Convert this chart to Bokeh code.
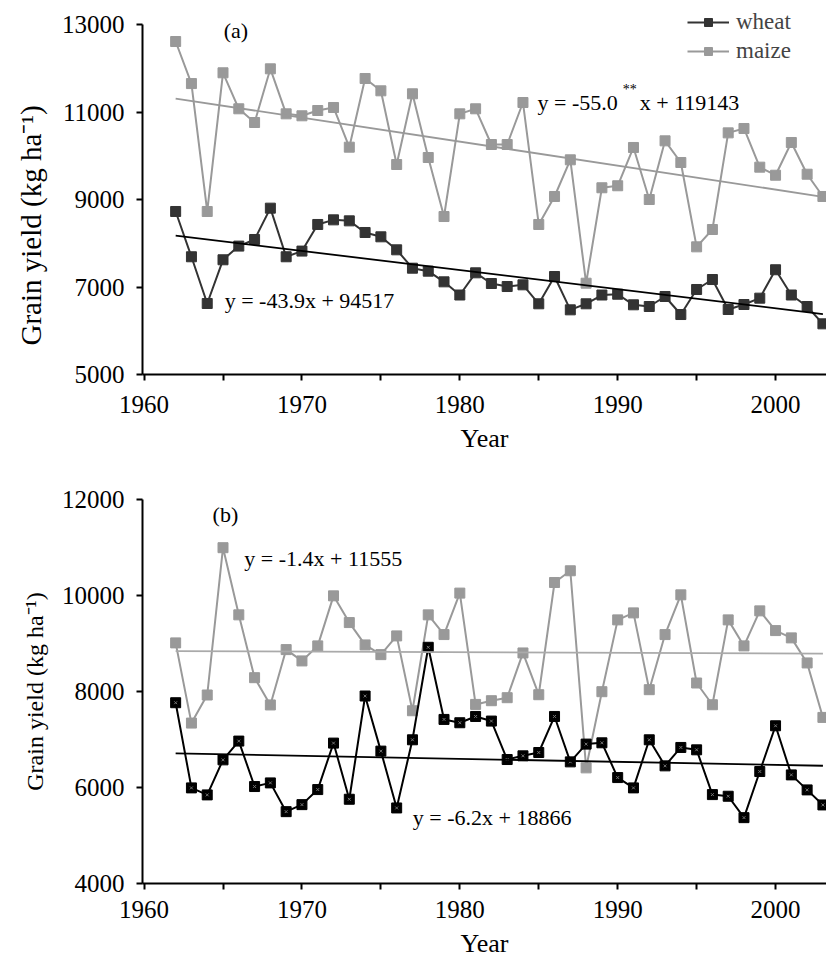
import numpy as np
from bokeh.plotting import figure
from bokeh.layouts import column
from bokeh.models import FixedTicker, Label, Legend, LegendItem, Range1d, Title
from bokeh.embed import file_html
from bokeh.resources import INLINE

# ---------------- data ----------------
years = list(range(1962, 2004))

wheat_a = [8726, 7691, 6623, 7622, 7935, 8086, 8802, 7691, 7821, 8429,
           8535, 8512, 8246, 8147, 7850, 7430, 7362, 7118, 6817, 7324,
           7080, 7011, 7050, 6616, 7240, 6478, 6616, 6817, 6835, 6593,
           6554, 6783, 6371, 6943, 7171, 6486, 6600, 6745, 7394, 6817,
           6554, 6158]
maize_a = [12611, 11650, 8726, 11896, 11073, 10760, 11987, 10958, 10913, 11034,
           11103, 10196, 11766, 11484, 9800, 11416, 9960, 8611, 10958, 11073,
           10257, 10257, 11217, 8429, 9069, 9907, 7087, 9268, 9314, 10189,
           9000, 10341, 9846, 7918, 8314, 10523, 10623, 9739, 9555, 10303,
           9578, 9069]
wheat_b = [7766, 5992, 5846, 6576, 6967, 6020, 6096, 5497, 5643, 5957,
           6925, 5755, 7906, 6758, 5574, 6994, 8921, 7418, 7349, 7480,
           7384, 6583, 6660, 6729, 7480, 6534, 6904, 6931, 6207, 5992,
           6994, 6451, 6834, 6785, 5852, 5818, 5372, 6333, 7286, 6263,
           5950, 5637]
maize_b = [9013, 7342, 7927, 10996, 9597, 8288, 7720, 8873, 8637, 8950,
           9993, 9436, 8970, 8768, 9158, 7599, 9597, 9186, 10050, 7731,
           7808, 7871, 8803, 7933, 10271, 10515, 6409, 7996, 9492, 9638,
           8038, 9186, 10014, 8177, 7724, 9492, 8950, 9680, 9269, 9117,
           8595, 7460]

series_names = ["wheat", "maize"]
eq_a_maize = ["y = -55.0", "**", "x + 119143"]
eq_a_wheat = "y = -43.9x + 94517"
eq_b_maize = "y = -1.4x + 11555"
eq_b_wheat = "y = -6.2x + 18866"
panel_tags = ["(a)", "(b)"]
y_title = "Grain yield (kg ha\u207b\u00b9)"
x_title = "Year"
x_major = [1960, 1970, 1980, 1990, 2000]
x_minor = [1965, 1975, 1985, 1995]
y_ticks_a = [5000, 7000, 9000, 11000, 13000]
y_ticks_b = [4000, 6000, 8000, 10000, 12000]

# ---------------- layout ----------------
FONT = "Liberation Serif"
W = 826
FL = 141
X0 = 1959.9
X1 = X0 + (W - FL) / 15.81

# panel (a): frame spans page y 0..374, 13000 at y=24, 5000 at y=374
H1, BB1 = 460, 86
YA0, YA1 = 5000, 13000
YA_TOP = YA1 + 24 * (YA1 - YA0) / 350.0
# panel (b): frame page y 499..883
H2, BT2, BB2 = 503, 39, 80
YB0, YB1 = 4000, 12000

def px2x(px):
    return X0 + (px - FL) * (X1 - X0) / (W - FL)

def make_fig(height, btop, bbot, ymin, ymax, ybounds, yticks, lab_standoff, ax_standoff,
             ytitle_size, ytitle_align, ytitle_offset, ytitle_standoff):
    p = figure(width=W, height=height, output_backend="svg", toolbar_location=None,
               x_range=Range1d(X0, X1), y_range=Range1d(ymin, ymax),
               min_border_left=FL, min_border_right=0,
               min_border_top=btop, min_border_bottom=bbot)
    p.outline_line_color = None
    p.xgrid.visible = False
    p.ygrid.visible = False
    p.background_fill_color = "white"
    p.border_fill_color = "white"
    p.xaxis.ticker = FixedTicker(ticks=x_major, minor_ticks=x_minor)
    p.yaxis.ticker = FixedTicker(ticks=yticks, minor_ticks=[])
    p.yaxis.bounds = ybounds
    for ax in (p.xaxis, p.yaxis):
        ax.axis_line_width = 2
        ax.axis_line_color = "black"
        ax.major_tick_line_width = 2
        ax.minor_tick_line_width = 2
        ax.major_tick_in = 0
        ax.major_tick_out = 6
        ax.minor_tick_in = 0
        ax.minor_tick_out = 6
        ax.major_label_text_font = FONT
        ax.major_label_text_font_size = "25px"
        ax.major_label_text_color = "black"
    p.xaxis.major_label_standoff = lab_standoff
    p.yaxis.major_label_standoff = 12
    p.xaxis.axis_label = x_title
    p.xaxis.axis_label_text_font = FONT
    p.xaxis.axis_label_text_font_size = "26px"
    p.xaxis.axis_label_text_font_style = "normal"
    p.xaxis.axis_label_text_color = "black"
    p.xaxis.axis_label_standoff = ax_standoff
    t = Title(text=y_title, align=ytitle_align, text_font=FONT, text_font_size=ytitle_size,
              text_font_style="normal", text_color="black", text_line_height=1.0,
              offset=ytitle_offset, standoff=ytitle_standoff)
    p.add_layout(t, "left")
    return p

def txt(p, x, y, s, size="22px", align="left"):
    p.add_layout(Label(x=x, y=y, text=s, text_font=FONT, text_font_size=size,
                       text_align=align, text_baseline="middle", text_color="black"))

DARK, GREY = "#333333", "#999999"
yr = np.array(years, dtype=float)

# ---------------- panel (a) ----------------
p1 = make_fig(H1, 0, BB1, YA0, YA_TOP, (YA0, YA1), y_ticks_a, 15, 8,
              "29px", "left", 29, 24)
ya = lambda py: YA1 - (py - 24) * (YA1 - YA0) / 350.0

lw = p1.line(years, wheat_a, line_color=DARK, line_width=2)
sw = p1.scatter(years, wheat_a, marker="square", size=10, fill_color=DARK, line_color=DARK)
lm = p1.line(years, maize_a, line_color=GREY, line_width=2)
sm = p1.scatter(years, maize_a, marker="square", size=10, fill_color=GREY, line_color=GREY)

for vals, col in ((wheat_a, "black"), (maize_a, GREY)):
    k, b = np.polyfit(yr, np.array(vals, dtype=float), 1)
    p1.line([yr[0], yr[-1]], [k * yr[0] + b, k * yr[-1] + b], line_color=col, line_width=1.8)

legend = Legend(items=[LegendItem(label=series_names[0], renderers=[lw, sw]),
                       LegendItem(label=series_names[1], renderers=[lm, sm])],
                location=(545, 310), padding=0, margin=0, spacing=3,
                glyph_width=42, glyph_height=20, label_height=20, label_standoff=7,
                label_text_font=FONT, label_text_font_size="23px",
                border_line_color=None, background_fill_alpha=0)
p1.add_layout(legend)

txt(p1, px2x(234.5), ya(30), panel_tags[0], align="center")
txt(p1, px2x(536.7), ya(101.7), eq_a_maize[0])
txt(p1, px2x(629), ya(89), eq_a_maize[1], size="14px", align="center")
txt(p1, px2x(639), ya(101.7), eq_a_maize[2])
txt(p1, px2x(223.3), ya(300), eq_a_wheat)

# ---------------- panel (b) ----------------
p2 = make_fig(H2, BT2, BB2, YB0, YB1, (YB0, YB1), y_ticks_b, 11, 8,
              "24px", "center", 0, 22)
TOP2 = H1 + BT2
yb = lambda py: YB1 - (py - TOP2) * (YB1 - YB0) / (H2 - BT2 - BB2)

p2.line(years, maize_b, line_color=GREY, line_width=2)
p2.scatter(years, maize_b, marker="square", size=10, fill_color=GREY, line_color=GREY)
p2.line(years, wheat_b, line_color="black", line_width=2)
p2.scatter(years, wheat_b, marker="square", size=10, fill_color="black", line_color="black")
p2.scatter(years, wheat_b, marker="x", size=4, line_color="#777777", line_width=1)

for vals, col in ((maize_b, "#aaaaaa"), (wheat_b, "black")):
    k, b = np.polyfit(yr, np.array(vals, dtype=float), 1)
    p2.line([yr[0], yr[-1]], [k * yr[0] + b, k * yr[-1] + b], line_color=col, line_width=1.8)

txt(p2, px2x(224), yb(514), panel_tags[1], align="center")
txt(p2, px2x(243), yb(558), eq_b_maize)
txt(p2, px2x(411.7), yb(816.7), eq_b_wheat)

layout = column(p1, p2, spacing=0)
open("out.html", "w").write(file_html(layout, INLINE))
